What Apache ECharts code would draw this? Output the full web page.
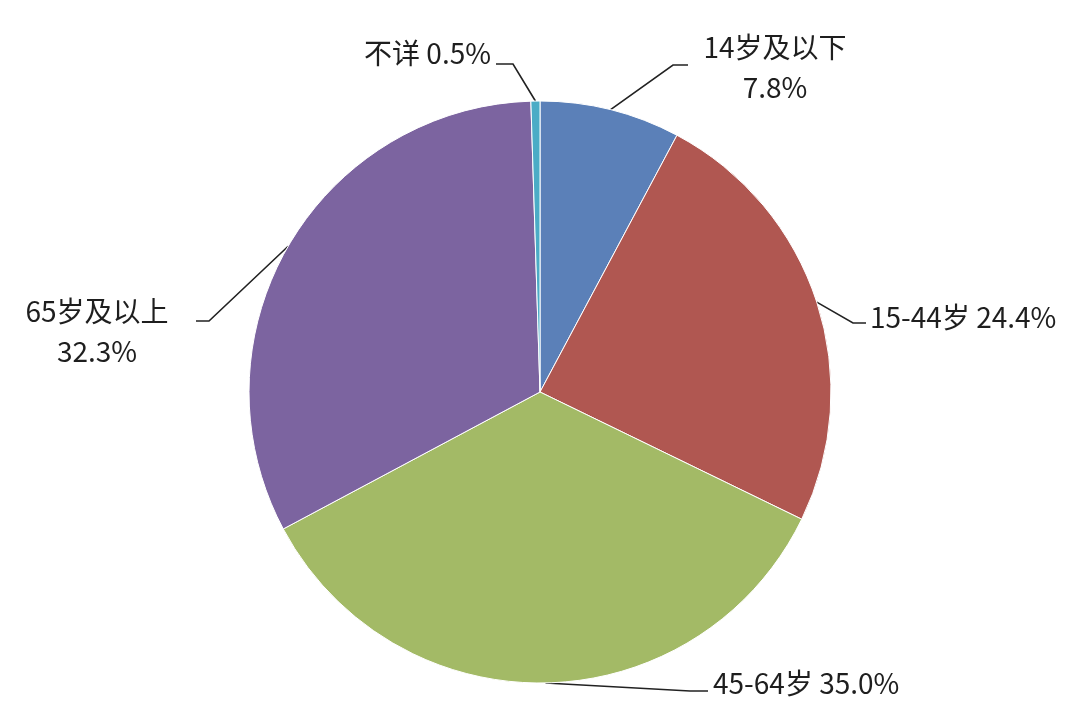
<!DOCTYPE html>
<html><head><meta charset="utf-8">
<script src="https://cdn.jsdelivr.net/npm/echarts@6/dist/echarts.min.js"></script>
<style>html,body{margin:0;padding:0;background:#fff}#c{width:1078px;height:714px}</style>
</head><body><div id="c"></div>
<script>
const categories = ['14岁及以下', '15-44岁', '45-64岁', '65岁及以上', '不详'];
const values = [7.8, 24.4, 35.0, 32.3, 0.5];
const colors = ['#5B80B8', '#B05751', '#A3BA66', '#7C64A0', '#4BACC6'];
const twoLine = [true, false, false, true, false];

// label placement (layout only)
const labelPlace = [
  {x: 775, y: 67, align: 'center', end: [688, 65], elbow: [673, 65]},
  {x: 870, y: 317, align: 'left', end: [866, 323], elbow: [853, 323]},
  {x: 713, y: 683, align: 'left', end: [708, 691], elbow: [690, 691]},
  {x: 97, y: 331, align: 'center', end: [196, 321], elbow: [209, 321]},
  {x: 491, y: 53, align: 'right', end: [496, 64], elbow: [513, 64]}
];

const chart = echarts.init(document.getElementById('c'));
chart.setOption({
  animation: false,
  series: [{
    type: 'pie',
    center: [540, 392],
    radius: 291,
    startAngle: 90,
    clockwise: true,
    avoidLabelOverlap: false,
    itemStyle: {borderColor: '#fff', borderWidth: 1},
    label: {
      show: true,
      position: 'outside',
      color: '#1e1e1e',
      fontFamily: '"Noto Sans CJK SC", "Noto Sans", sans-serif',
      fontSize: 28,
      lineHeight: 40,
      formatter: p => twoLine[p.dataIndex]
        ? p.name + '\n' + p.value.toFixed(1) + '%'
        : p.name + ' ' + p.value.toFixed(1) + '%'
    },
    labelLine: {show: true, length: 20, length2: 20, lineStyle: {color: '#222', width: 1.6}},
    labelLayout: function (params) {
      const lp = labelPlace[params.dataIndex];
      const start = params.labelLinePoints ? params.labelLinePoints[0] : lp.elbow;
      return {
        x: lp.x, y: lp.y, align: lp.align, verticalAlign: 'middle',
        labelLinePoints: [start, lp.elbow, lp.end]
      };
    },
    data: categories.map((c, i) => ({
      name: c, value: values[i],
      itemStyle: {color: colors[i]},
      label: {align: labelPlace[i].align}
    }))
  }]
});
</script>
</body></html>
